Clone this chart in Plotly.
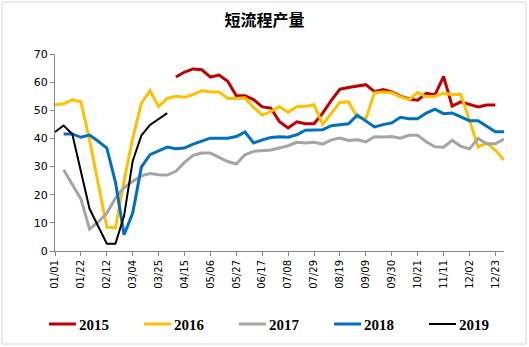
import plotly.graph_objects as go

categories = ["01/01", "01/08", "01/15", "01/22", "01/29", "02/05", "02/12", "02/19", "02/26",
              "03/04", "03/11", "03/18", "03/25", "04/01", "04/08", "04/15", "04/22", "04/29",
              "05/06", "05/13", "05/20", "05/27", "06/03", "06/10", "06/17", "06/24", "07/01",
              "07/08", "07/15", "07/22", "07/29", "08/05", "08/12", "08/19", "08/26", "09/02",
              "09/09", "09/16", "09/23", "09/30", "10/07", "10/14", "10/21", "10/28", "11/04",
              "11/11", "11/18", "11/25", "12/02", "12/09", "12/16", "12/23", "12/30"]

tick_labels = ["01/01", "01/22", "02/12", "03/04", "03/25", "04/15", "05/06", "05/27", "06/17",
               "07/08", "07/29", "08/19", "09/09", "09/30", "10/21", "11/11", "12/02", "12/23"]

y2015 = [None] * 14 + [61.8, 63.6, 64.7, 64.4, 61.8, 62.5, 60.3, 55.2, 55.2, 53.8,
                       51.2, 50.8, 45.9, 43.7, 45.9, 45.2, 45.2, 49.0, 53.5, 57.5,
                       58.1, 58.6, 59.1, 56.6, 57.4, 56.5, 55.0, 54.0, 53.6, 56.0,
                       55.5, 62.0, 51.5, 53.0, 52.2, 51.2, 51.9, 51.9, None]

y2016 = [52.0, 52.3, 53.7, 53.0, 39.5, 23.5, 8.5, 8.2, 25.0, 40.0,
         52.5, 57.0, 51.3, 54.2, 55.0, 54.6, 55.6, 57.0, 56.5, 56.5,
         54.2, 54.2, 54.4, 51.0, 48.3, 49.6, 51.3, 49.3, 51.3, 51.4,
         52.0, 45.0, 49.0, 52.8, 53.0, 47.5, 47.0, 56.2, 56.5, 56.2,
         54.8, 53.8, 56.3, 54.8, 55.0, 56.0, 55.6, 55.6, 46.5, 37.0,
         38.4, 35.8, 32.3]

y2017 = [None, 28.9, 23.5, 18.5, 7.8, 10.3, 13.4, 18.8, 22.5, 24.8,
         26.7, 27.5, 27.1, 27.0, 28.3, 31.5, 34.0, 34.8, 34.8, 33.3,
         31.8, 30.9, 34.2, 35.4, 35.7, 35.9, 36.6, 37.4, 38.6, 38.4,
         38.6, 38.0, 39.5, 40.1, 39.3, 39.5, 38.8, 40.6, 40.5, 40.7,
         40.1, 41.1, 41.1, 38.8, 37.0, 36.9, 39.3, 37.2, 36.3, 40.0,
         38.1, 38.1, 39.8]

y2018 = [None, 41.6, 41.6, 40.4, 41.2, 39.0, 36.6, 24.5, 5.8, 13.5,
         29.8, 34.2, 35.6, 36.9, 36.3, 36.6, 38.0, 39.0, 40.1, 40.1,
         40.1, 40.7, 42.3, 38.4, 39.5, 40.3, 40.6, 40.4, 41.3, 42.9,
         42.9, 43.1, 44.5, 44.9, 45.2, 48.3, 46.1, 44.1, 44.9, 45.5,
         47.5, 47.0, 47.0, 49.0, 50.4, 48.8, 49.0, 47.6, 46.3, 46.3,
         44.3, 42.4, 42.4]

y2019 = [42.3, 44.6, 41.6, 28.5, 15.0, 8.8, 2.6, 2.6, 12.5, 32.0,
         41.0, 44.8, 47.0, 49.0] + [None] * 39

series = [
    ("2015", y2015, "#C00000", 3),
    ("2016", y2016, "#FFC000", 3),
    ("2017", y2017, "#A5A5A5", 3),
    ("2018", y2018, "#0070C0", 3),
    ("2019", y2019, "#000000", 2),
]

W, H = 529, 347
L, R, T, B = 55, 25, 54, 96
pw, ph = W - L - R, H - T - B

def px_x(x):
    return (x - L) / pw

def px_y(y):
    return (H - B - y) / ph

fig = go.Figure()
shapes = [dict(type="rect", xref="paper", yref="paper",
               x0=px_x(2), x1=px_x(526), y0=px_y(344), y1=px_y(2),
               line=dict(color="#D9D9D9", width=1), layer="below")]
annotations = []
for k, (name, ys, color, w) in enumerate(series):
    fig.add_trace(go.Scatter(
        x=categories, y=ys, name=name, mode="lines",
        line=dict(color=color, width=w), connectgaps=False,
    ))
    lx = 49 + 95 * k
    shapes.append(dict(type="line", xref="paper", yref="paper",
                       x0=px_x(lx), x1=px_x(lx + 27), y0=px_y(324), y1=px_y(324),
                       line=dict(color=color, width=w)))
    annotations.append(dict(text="<b>%s</b>" % name, xref="paper", yref="paper",
                            x=px_x(lx + 28), y=px_y(325), xanchor="left", yanchor="middle",
                            showarrow=False,
                            font=dict(family="Liberation Serif", size=15, color="#000000")))

fig.update_layout(
    width=W, height=H,
    margin=dict(l=L, r=R, t=T, b=B),
    paper_bgcolor="white", plot_bgcolor="white",
    title=dict(text="<b>短流程产量</b>", x=0.5, xanchor="center",
               y=1 - 20 / H, yanchor="middle",
               font=dict(family="Noto Sans CJK SC", size=16, color="#000000")),
    showlegend=False,
    xaxis=dict(
        type="category", categoryorder="array", categoryarray=categories,
        range=[0, len(categories) - 1],
        tickmode="array", tickvals=tick_labels, ticktext=tick_labels,
        tickangle=-90, ticks="outside", ticklen=4, tickcolor="#868686",
        showline=True, linecolor="#868686", linewidth=1,
        showgrid=False, zeroline=False,
        tickfont=dict(family="DejaVu Sans", size=10, color="#000000"),
    ),
    yaxis=dict(
        range=[0, 70], tickmode="array", tickvals=[0, 10, 20, 30, 40, 50, 60, 70],
        ticks="outside", ticklen=4, tickcolor="#868686",
        showline=True, linecolor="#868686", linewidth=1,
        showgrid=False, zeroline=False,
        tickfont=dict(family="DejaVu Sans", size=11, color="#000000"),
    ),
    shapes=shapes,
    annotations=annotations,
)

fig.write_html("out.html")
